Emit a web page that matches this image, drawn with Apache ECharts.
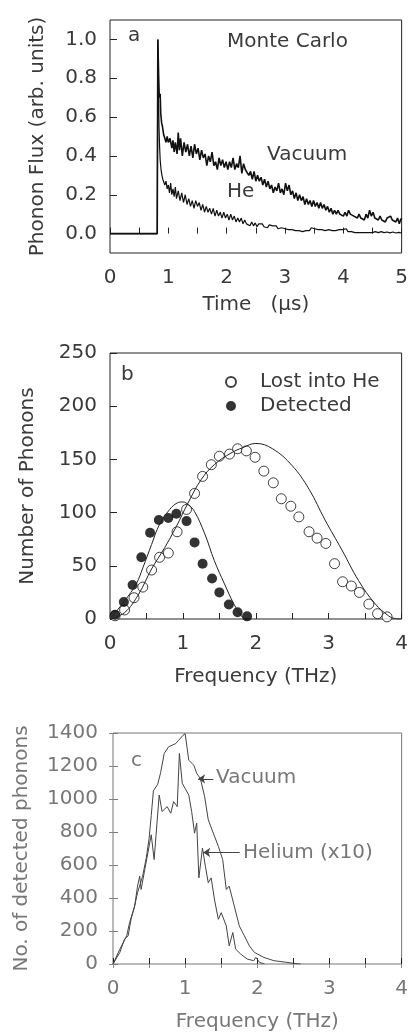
<!DOCTYPE html>
<html><head><meta charset="utf-8">
<script src="https://cdn.jsdelivr.net/npm/echarts@6/dist/echarts.min.js"></script>
<style>html,body{margin:0;padding:0;background:#fff}#c{width:411px;height:1033px}</style>
</head><body><div id="c"></div>
<script>
// ---------- Panel a : phonon flux vs time ----------
const timeTicks = [0, 1, 2, 3, 4, 5];
const fluxTicks = [0.0, 0.2, 0.4, 0.6, 0.8, 1.0];
const vacuumFlux = [
[0,0],[0.81,0],[0.82,1.00],[0.835,0.80],[0.845,0.70],[0.86,0.72],[0.87,0.62],[0.885,0.57],[0.90,0.55],[0.92,0.51],[0.94,0.50],[0.96,0.47],[0.98,0.50],[1.00,0.47],[1.03,0.49],[1.06,0.44],[1.08,0.48],[1.10,0.42],[1.12,0.47],[1.15,0.41],[1.17,0.52],[1.19,0.43],[1.21,0.49],[1.24,0.40],[1.27,0.47],[1.30,0.42],[1.33,0.46],[1.36,0.40],[1.39,0.45],[1.42,0.39],[1.45,0.46],[1.48,0.41],[1.51,0.44],[1.54,0.38],[1.57,0.43],[1.60,0.39],[1.63,0.41],[1.66,0.35],[1.69,0.40],[1.72,0.37],[1.75,0.42],[1.78,0.35],[1.81,0.37],[1.84,0.33],[1.87,0.39],[1.90,0.35],[1.93,0.38],[1.96,0.34],[1.99,0.37],[2.02,0.33],[2.05,0.37],[2.08,0.34],[2.11,0.39],[2.14,0.33],[2.17,0.36],[2.20,0.34],[2.23,0.40],[2.26,0.31],[2.29,0.36],[2.32,0.33],[2.35,0.34],[2.38,0.30],[2.41,0.32],[2.44,0.28],[2.47,0.32],[2.50,0.27],[2.53,0.30],[2.56,0.27],[2.59,0.29],[2.62,0.25],[2.65,0.28],[2.68,0.24],[2.71,0.27],[2.74,0.23],[2.77,0.25],[2.80,0.21],[2.83,0.24],[2.86,0.22],[2.89,0.26],[2.92,0.21],[2.95,0.23],[2.98,0.20],[3.01,0.26],[3.04,0.22],[3.07,0.25],[3.10,0.20],[3.13,0.22],[3.16,0.18],[3.19,0.21],[3.22,0.17],[3.25,0.20],[3.28,0.17],[3.31,0.19],[3.34,0.15],[3.37,0.18],[3.40,0.15],[3.43,0.17],[3.46,0.14],[3.49,0.17],[3.52,0.14],[3.55,0.16],[3.58,0.13],[3.61,0.16],[3.64,0.13],[3.67,0.15],[3.70,0.12],[3.73,0.14],[3.76,0.11],[3.79,0.13],[3.82,0.10],[3.85,0.12],[3.88,0.10],[3.91,0.12],[3.94,0.10],[3.97,0.11],[4.00,0.09],[4.03,0.11],[4.06,0.09],[4.09,0.12],[4.12,0.10],[4.15,0.11],[4.18,0.09],[4.21,0.10],[4.24,0.08],[4.27,0.10],[4.30,0.08],[4.33,0.09],[4.36,0.07],[4.39,0.10],[4.42,0.08],[4.45,0.12],[4.48,0.09],[4.51,0.11],[4.54,0.08],[4.57,0.09],[4.60,0.07],[4.63,0.09],[4.66,0.07],[4.69,0.08],[4.72,0.06],[4.75,0.08],[4.78,0.07],[4.81,0.09],[4.84,0.07],[4.87,0.08],[4.90,0.06],[4.93,0.08],[4.96,0.05],[4.98,0.07],[5.00,0.08]
];
const heliumFlux = [
[0,0],[0.81,0],[0.82,1.00],[0.83,0.75],[0.84,0.55],[0.85,0.45],[0.86,0.38],[0.875,0.33],[0.89,0.30],[0.905,0.28],[0.92,0.29],[0.94,0.25],[0.96,0.27],[0.98,0.23],[1.00,0.25],[1.02,0.21],[1.04,0.26],[1.06,0.20],[1.08,0.23],[1.10,0.19],[1.12,0.24],[1.14,0.18],[1.17,0.22],[1.20,0.17],[1.23,0.21],[1.26,0.16],[1.29,0.20],[1.32,0.15],[1.35,0.18],[1.38,0.14],[1.41,0.17],[1.44,0.13],[1.47,0.17],[1.50,0.14],[1.53,0.16],[1.56,0.12],[1.59,0.15],[1.62,0.11],[1.65,0.14],[1.68,0.11],[1.71,0.13],[1.74,0.10],[1.77,0.13],[1.80,0.09],[1.83,0.12],[1.86,0.09],[1.89,0.11],[1.92,0.08],[1.95,0.11],[1.98,0.08],[2.01,0.10],[2.04,0.07],[2.07,0.10],[2.10,0.07],[2.13,0.09],[2.16,0.06],[2.19,0.08],[2.22,0.06],[2.25,0.08],[2.28,0.05],[2.31,0.07],[2.34,0.05],[2.37,0.06],[2.40,0.04],[2.43,0.06],[2.46,0.04],[2.49,0.055],[2.52,0.035],[2.55,0.05],[2.58,0.04],[2.61,0.05],[2.64,0.035],[2.67,0.045],[2.70,0.03],[2.73,0.045],[2.76,0.035],[2.79,0.04],[2.82,0.03],[2.85,0.04],[2.88,0.025],[2.91,0.035],[2.94,0.03],[2.97,0.04],[3.00,0.025],[3.03,0.035],[3.06,0.02],[3.09,0.03],[3.12,0.02],[3.15,0.03],[3.18,0.015],[3.21,0.025],[3.24,0.015],[3.27,0.02],[3.30,0.01],[3.33,0.02],[3.36,0.015],[3.39,0.025],[3.42,0.015],[3.45,0.03],[3.48,0.02],[3.51,0.025],[3.54,0.015],[3.57,0.02],[3.60,0.01],[3.63,0.02],[3.66,0.01],[3.69,0.015],[3.72,0.01],[3.75,0.02],[3.78,0.01],[3.81,0.015],[3.84,0.005],[3.87,0.015],[3.90,0.005],[3.93,0.02],[3.96,0.01],[3.99,0.02],[4.02,0.01],[4.05,0.025],[4.08,0.01],[4.11,0.02],[4.14,0.01],[4.17,0.015],[4.20,0.005],[4.23,0.015],[4.26,0.005],[4.29,0.01],[4.32,0.005],[4.35,0.01],[4.38,0.005],[4.41,0.01],[4.44,0.005],[4.47,0.012],[4.50,0.005],[4.55,0.01],[4.60,0.005],[4.65,0.01],[4.70,0.005],[4.75,0.008],[4.80,0.004],[4.85,0.008],[4.90,0.003],[4.95,0.006],[5.00,0.003]
];

// ---------- Panel b : number of phonons vs frequency ----------
const lostIntoHe = [
[0.07,3],[0.2,8.5],[0.33,20],[0.45,30],[0.57,46],[0.68,58],[0.8,62],[0.92,82],[1.05,103],[1.16,118],[1.27,134],[1.39,145],[1.5,153],[1.64,155],[1.75,160],[1.87,158],[1.99,152],[2.11,139],[2.24,128],[2.35,113],[2.48,106],[2.59,96],[2.73,82],[2.84,76],[2.96,71],[3.08,52],[3.19,35],[3.31,31],[3.42,25],[3.55,14],[3.67,5],[3.8,2]
];
const detected = [
[0.07,4],[0.19,16],[0.31,32],[0.43,58],[0.55,81],[0.67,93],[0.8,95],[0.91,99],[1.05,92],[1.16,72],[1.27,52],[1.4,38],[1.5,25],[1.63,13.6],[1.75,6.3],[1.88,2.5]
];
const lostFit = [
[0,0],[0.2,6],[0.39,23],[0.57,47],[0.75,67],[0.91,87],[1.07,109],[1.25,131],[1.43,145],[1.66,156],[1.82,161],[2.0,165],[2.23,160],[2.5,144],[2.73,122],[2.95,93],[3.18,65],[3.41,36],[3.64,14],[3.82,3],[3.9,0.6],[4.0,0]
];
const detectedFit = [
[0,0],[0.2,17],[0.36,33],[0.45,48],[0.57,70],[0.68,89],[0.82,103],[0.92,109],[1.0,110],[1.08,107],[1.16,101],[1.3,80],[1.43,55],[1.57,33],[1.7,14],[1.8,3],[1.85,0]
];
const freqTicks = [0, 1, 2, 3, 4];
const phononTicks = [0, 50, 100, 150, 200, 250];

// ---------- Panel c : detected phonons spectrum ----------
const vacuumSpectrum = [
[0,0],[0.095,90],[0.19,171],[0.23,251],[0.3,351],[0.34,432],[0.41,532],[0.46,640],[0.5,760],[0.53,900],[0.56,1050],[0.62,1090],[0.66,1160],[0.71,1276],[0.77,1316],[0.82,1326],[0.87,1336],[0.91,1356],[0.97,1386],[1.0,1396],[1.05,1235],[1.12,1205],[1.16,1155],[1.21,1125],[1.27,1014],[1.32,874],[1.39,793],[1.46,713],[1.52,633],[1.57,452],[1.61,472],[1.68,352],[1.75,231],[1.82,171],[1.89,110],[1.96,70],[2.09,40],[2.23,20],[2.41,10],[2.5,4],[2.6,0]
];
const heliumSpectrum = [
[0,0],[0.095,70],[0.16,151],[0.21,171],[0.25,271],[0.3,351],[0.34,472],[0.37,532],[0.39,452],[0.44,572],[0.53,783],[0.57,633],[0.64,1024],[0.68,924],[0.75,954],[0.8,914],[0.84,984],[0.89,954],[0.92,1276],[0.96,1095],[1.0,1064],[1.05,1024],[1.09,924],[1.13,793],[1.16,854],[1.19,522],[1.24,703],[1.28,593],[1.32,492],[1.36,522],[1.41,382],[1.46,271],[1.5,311],[1.57,231],[1.61,110],[1.66,191],[1.7,90],[1.77,60],[1.86,30],[1.95,20],[1.98,40],[2.03,10],[2.1,0]
];
const countTicks = [0, 200, 400, 600, 800, 1000, 1200, 1400];
const vacuumArrow = [[1.39,1122],[1.18,1122]];
const heliumArrow = [[1.755,676],[1.25,676]];

const FONT = 'DejaVu Sans';
const FW = 'normal';
const FS = 20;
const dark = '#3a3a3a';
const grey = '#777';
const TFONT = FS + 'px "DejaVu Sans"';

function xAx(grid, max, color, nameGap, name, extra) {
  return Object.assign({
    type: 'value', gridIndex: grid, min: 0, max: max, interval: 0.5,
    name: name, nameLocation: 'middle', nameGap: nameGap,
    nameTextStyle: {fontFamily: FONT, fontWeight: FW, fontSize: FS, color: color},
    axisLine: {show: false},
    axisTick: {show: true, inside: true, length: 6, lineStyle: {color: '#222'}},
    axisLabel: {fontFamily: FONT, fontWeight: FW, fontSize: FS, color: color, margin: 15,
      formatter: v => (Math.abs(v - Math.round(v)) < 1e-9 ? String(Math.round(v)) : '')},
    splitLine: {show: false}
  }, extra || {});
}

const option = {
  animation: false,
  backgroundColor: '#fff',
  grid: [
    {left: 110, width: 295, top: 20, height: 233, show: true, borderColor: '#222', borderWidth: 1},
    {left: 110, width: 293, top: 353, height: 266, show: true, borderColor: '#222', borderWidth: 1},
    {left: 113, width: 294, top: 733, height: 232, show: true, borderColor: '#777', borderWidth: 1}
  ],
  xAxis: [
    xAx(0, 5, dark, 42, 'Time   (μs)'),
    xAx(1, 4, dark, 48, 'Frequency (THz)'),
    xAx(2, 4, grey, 48, 'Frequency (THz)'),
    xAx(2, 4, grey, 0, '', {position: 'top', axisLabel: {show: false}, axisTick: {show: true, inside: true, length: 4, lineStyle: {color: '#888'}}})
  ],
  yAxis: [
    {type: 'value', gridIndex: 0, min: -0.1, max: 1.1,
     name: 'Phonon Flux (arb. units)', nameLocation: 'middle', nameGap: 62,
     nameTextStyle: {fontFamily: FONT, fontWeight: FW, fontSize: FS, color: dark},
     axisLine: {show: false}, splitLine: {show: false},
     axisTick: {show: true, inside: true, length: 7, customValues: fluxTicks, lineStyle: {color: '#222'}},
     axisLabel: {fontFamily: FONT, fontWeight: FW, fontSize: FS, color: dark, margin: 13,
       customValues: fluxTicks, formatter: v => v.toFixed(1)}},
    {type: 'value', gridIndex: 1, min: 0, max: 250, interval: 50,
     name: 'Number of Phonons', nameLocation: 'middle', nameGap: 72,
     nameTextStyle: {fontFamily: FONT, fontWeight: FW, fontSize: FS, color: dark},
     axisLine: {show: false}, splitLine: {show: false},
     axisTick: {show: true, inside: true, length: 7, lineStyle: {color: '#222'}},
     axisLabel: {fontFamily: FONT, fontWeight: FW, fontSize: FS, color: dark, margin: 13}},
    {type: 'value', gridIndex: 2, min: 0, max: 1400, interval: 200,
     name: 'No. of detected phonons', nameLocation: 'middle', nameGap: 81,
     nameTextStyle: {fontFamily: FONT, fontWeight: FW, fontSize: FS, color: grey},
     axisLine: {show: false}, splitLine: {show: false},
     axisTick: {show: true, inside: true, length: 5, lineStyle: {color: '#777'}},
     axisLabel: {fontFamily: FONT, fontWeight: FW, fontSize: FS, color: grey, margin: 15,
       formatter: v => String(v)}},
    {type: 'value', gridIndex: 2, min: 0, max: 1400, interval: 200, position: 'right',
     axisLine: {show: false}, splitLine: {show: false}, axisLabel: {show: false},
     axisTick: {show: true, inside: true, length: 4, lineStyle: {color: '#888'}}}
  ],
  legend: {
    orient: 'vertical', left: 220, top: 367, itemWidth: 48, itemHeight: 10, itemGap: 4,
    data: ['Lost into He', 'Detected'],
    textStyle: {fontFamily: FONT, fontWeight: FW, fontSize: FS, color: dark}
  },
  series: [
    {name: 'Vacuum (a)', type: 'line', xAxisIndex: 0, yAxisIndex: 0, data: vacuumFlux,
     showSymbol: false, lineStyle: {color: '#111', width: 1.6}},
    {name: 'He (a)', type: 'line', xAxisIndex: 0, yAxisIndex: 0, data: heliumFlux,
     showSymbol: false, lineStyle: {color: '#111', width: 1.2}},
    {name: 'Lost fit', type: 'line', xAxisIndex: 1, yAxisIndex: 1, data: lostFit, smooth: 0.4,
     showSymbol: false, lineStyle: {color: '#222', width: 1}},
    {name: 'Detected fit', type: 'line', xAxisIndex: 1, yAxisIndex: 1, data: detectedFit, smooth: 0.4,
     showSymbol: false, lineStyle: {color: '#222', width: 1}},
    {name: 'Lost into He', type: 'scatter', xAxisIndex: 1, yAxisIndex: 1, data: lostIntoHe,
     symbol: 'circle', symbolSize: 10, itemStyle: {color: '#fff', borderColor: '#111', borderWidth: 1}},
    {name: 'Detected', type: 'scatter', xAxisIndex: 1, yAxisIndex: 1, data: detected,
     symbol: 'circle', symbolSize: 10, itemStyle: {color: '#000', borderColor: '#000', borderWidth: 0}},
    {name: 'Vacuum (c)', type: 'line', xAxisIndex: 2, yAxisIndex: 2, data: vacuumSpectrum,
     showSymbol: false, lineStyle: {color: '#444', width: 1},
     markLine: {silent: true, symbol: ['none', 'arrow'], symbolSize: 7, label: {show: false},
       lineStyle: {color: '#444', width: 1, type: 'solid'},
       data: [[{coord: vacuumArrow[0]}, {coord: vacuumArrow[1]}]]}},
    {name: 'Helium (c)', type: 'line', xAxisIndex: 2, yAxisIndex: 2, data: heliumSpectrum,
     showSymbol: false, lineStyle: {color: '#444', width: 1},
     markLine: {silent: true, symbol: ['none', 'arrow'], symbolSize: 7, label: {show: false},
       lineStyle: {color: '#444', width: 1, type: 'solid'},
       data: [[{coord: heliumArrow[0]}, {coord: heliumArrow[1]}]]}}
  ],
  graphic: [
    {type: 'text', left: 128, top: 26, style: {text: 'a', font: TFONT, fill: dark}},
    {type: 'text', left: 227, top: 32, style: {text: 'Monte Carlo', font: TFONT, fill: dark}},
    {type: 'text', left: 267, top: 145, style: {text: 'Vacuum', font: TFONT, fill: dark}},
    {type: 'text', left: 227, top: 182, style: {text: 'He', font: TFONT, fill: dark}},
    {type: 'text', left: 121, top: 365, style: {text: 'b', font: TFONT, fill: dark}},
    {type: 'text', left: 131, top: 751, style: {text: 'c', font: TFONT, fill: grey}},
    {type: 'text', left: 216, top: 768, style: {text: 'Vacuum', font: TFONT, fill: grey}},
    {type: 'text', left: 243, top: 843, style: {text: 'Helium (x10)', font: TFONT, fill: grey}}
  ]
};
const chart = echarts.init(document.getElementById('c'), null, {renderer: 'canvas'});
chart.setOption(option);
</script>
</body></html>
